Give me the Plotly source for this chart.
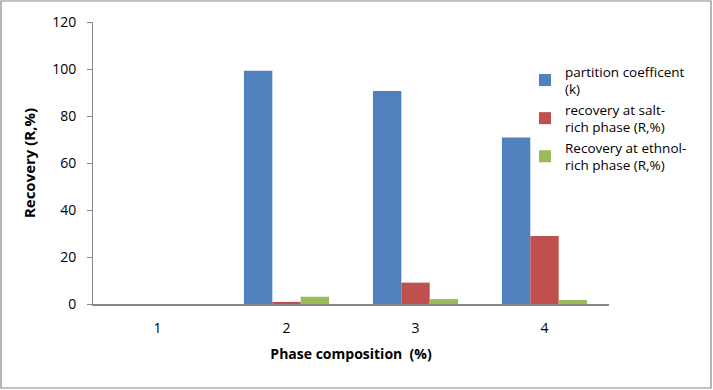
import plotly.graph_objects as go

categories = ["1", "2", "3", "4"]
partition_k = [0, 99.3, 90.6, 70.8]
recovery_salt = [0, 0.9, 9.1, 28.9]
recovery_ethanol = [0, 3.1, 2.1, 1.7]

series_names = [
    "partition coefficent<br>(k)",
    "recovery at salt-<br>rich phase (R,%)",
    "Recovery at ethnol-<br>rich phase (R,%)",
]
colors = ["#4F81BD", "#C0504D", "#9BBB59"]

W, H = 713, 390
L, R, T, B = 93, 104, 22, 86

fig = go.Figure()
for name, vals, c in zip(series_names, [partition_k, recovery_salt, recovery_ethanol], colors):
    fig.add_trace(go.Bar(x=categories, y=vals, name=name, marker=dict(color=c, line=dict(width=0))))

pw = W - L - R
ph = H - T - B
def px2x(p):
    return (p - L) / pw
def py2y(p):
    return (H - B - p) / ph

fig.update_layout(
    width=W, height=H,
    margin=dict(l=L, r=R, t=T, b=B, autoexpand=False),
    paper_bgcolor="white", plot_bgcolor="white",
    barmode="group", bargap=0.34, bargroupgap=0,
    font=dict(family="Open Sans, Liberation Sans, sans-serif", size=14, color="#000000"),
    showlegend=True,
    legend=dict(x=px2x(525), y=py2y(56), xanchor="left", yanchor="top",
                font=dict(size=13.5), bgcolor="rgba(0,0,0,0)", tracegroupgap=9,
                itemwidth=30),
    xaxis=dict(
        title=dict(text="<b>Phase composition  (%)</b>", font=dict(size=14), standoff=14),
        showline=True, linecolor="#868686", linewidth=1.5, ticks="", showgrid=False,
        tickfont=dict(size=14), ticklabelstandoff=10,
    ),
    yaxis=dict(
        title=dict(text="<b>Recovery (R,%)</b>", font=dict(size=15), standoff=12),
        range=[0, 120], dtick=20, showline=True, linecolor="#868686", linewidth=1,
        ticks="outside", ticklen=5, tickcolor="#868686", showgrid=False, zeroline=False,
        tickfont=dict(size=14), ticklabelstandoff=8,
    ),
    shapes=[dict(type="rect", xref="paper", yref="paper",
                 x0=px2x(1), x1=px2x(711), y0=py2y(388), y1=py2y(1),
                 line=dict(color="#868686", width=1.2), fillcolor="rgba(0,0,0,0)", layer="below")],
)

fig.write_html("out.html", config={"displayModeBar": False},
               post_script="document.body.style.margin='0';document.body.style.padding='0';")
